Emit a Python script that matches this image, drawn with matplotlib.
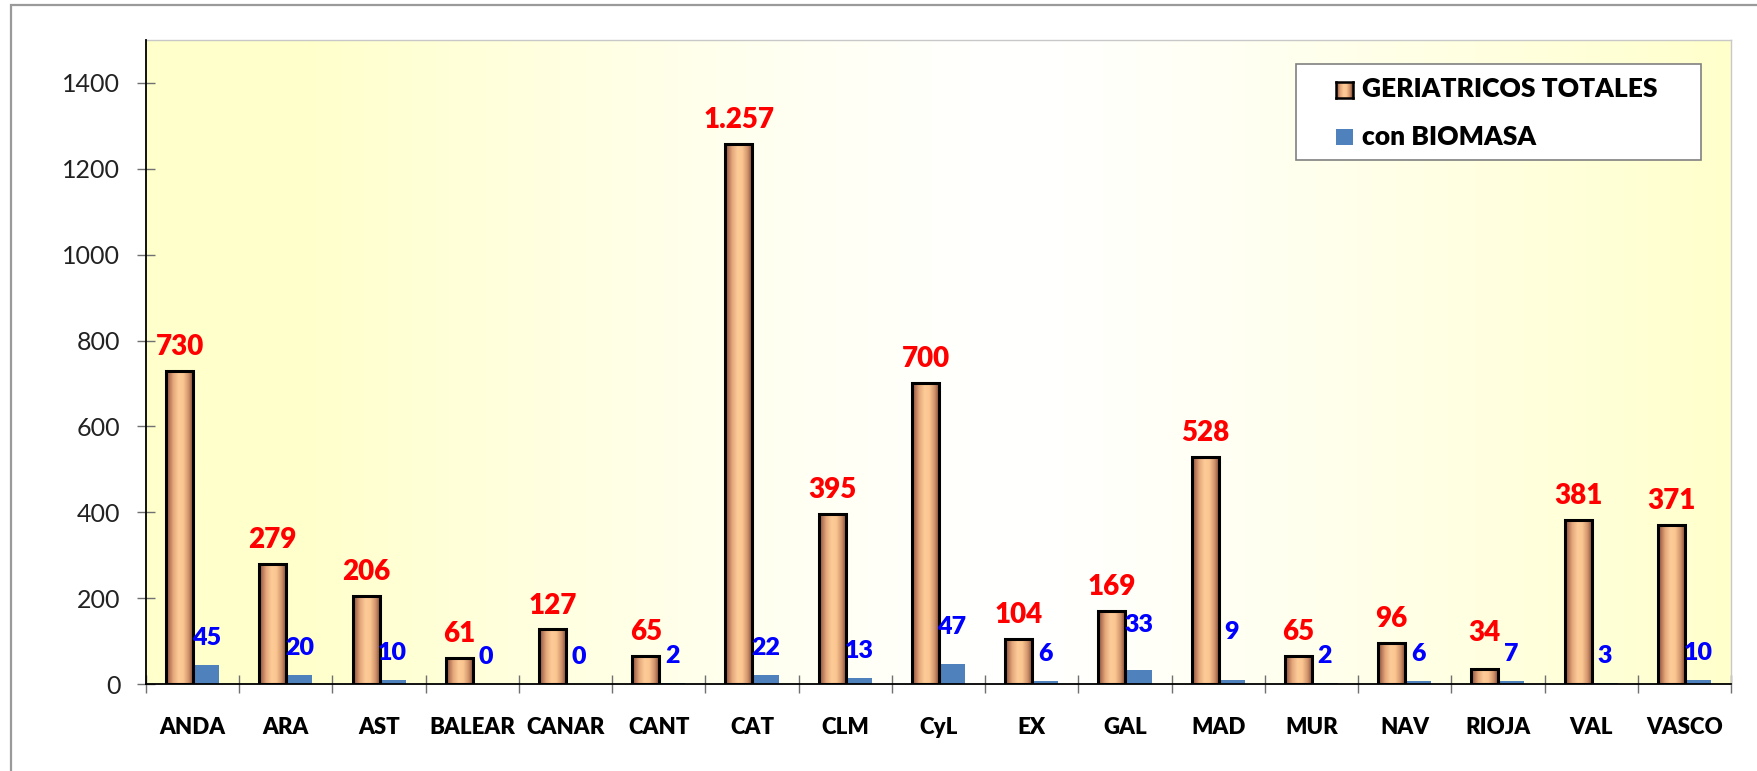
import numpy as np
import matplotlib
matplotlib.use("Agg")
import matplotlib.pyplot as plt
from matplotlib.colors import LinearSegmentedColormap, to_rgb
from matplotlib.patches import Rectangle

# ---------------- data ----------------
categories = ["ANDA", "ARA", "AST", "BALEAR", "CANAR", "CANT", "CAT", "CLM", "CyL",
              "EX", "GAL", "MAD", "MUR", "NAV", "RIOJA", "VAL", "VASCO"]
totales = [730, 279, 206, 61, 127, 65, 1257, 395, 700, 104, 169, 528, 65, 96, 34, 381, 371]
biomasa = [45, 20, 10, 0, 0, 2, 22, 13, 47, 6, 33, 9, 2, 6, 7, 3, 10]
series_names = ["GERIATRICOS TOTALES", "con BIOMASA"]
y_ticks = [0, 200, 400, 600, 800, 1000, 1200, 1400]

# label nudges (points) for a few labels placed higher in the original
red_extra = {"RIOJA": 9}
blue_extra = {"CyL": 7, "GAL": 13, "MAD": 15}

# ---------------- styling ----------------
W, H = 1758, 771
fig = plt.figure(figsize=(W / 100, H / 100), dpi=100)
fig.patch.set_facecolor("white")

bold_font = ["Lato", "DejaVu Sans"]
HEAVY = 800
bar_cmap = LinearSegmentedColormap.from_list(
    "copper_bar",
    [(0.0, "#8A4A37"), (0.25, "#E3A67A"), (0.45, "#FDCB97"),
     (0.62, "#FBC690"), (0.82, "#CF936B"), (1.0, "#7A3F2D")])
blue = "#4F81BD"

# outer frame
fig.add_artist(Rectangle((11 / W, -0.05), 1.2, 1 - 5 / H + 0.05,
                         transform=fig.transFigure, fill=False,
                         edgecolor="#9A9A9A", linewidth=1.6))

ax_left, ax_right = 146 / W, 1731 / W
ax_bottom, ax_top = 1 - 684 / H, 1 - 40 / H
ax = fig.add_axes([ax_left, ax_bottom, ax_right - ax_left, ax_top - ax_bottom])

# plot-area background gradient (yellow - white - yellow)
xs = np.linspace(0, 1, 400)
t = np.clip(np.abs(xs - 0.55) / 0.45, 0, 1) ** 1.2
yel = np.array(to_rgb("#FFFFCC"))
wht = np.array([1.0, 1.0, 1.0])
grad = (wht[None, :] * (1 - t[:, None]) + yel[None, :] * t[:, None])[None, :, :]
ax.imshow(grad, extent=[0, 1, 0, 1], transform=ax.transAxes, aspect="auto",
          zorder=0, interpolation="bilinear")

x = np.arange(len(categories))
ow, bw = 0.29, 0.28
ox = x - 0.5 + 0.215 + ow / 2
bx = x - 0.5 + 0.215 + ow + bw / 2

obars = ax.bar(ox, totales, width=ow, facecolor="none", edgecolor="black",
               linewidth=2.2, zorder=3)
hgrad = np.linspace(0, 1, 64)[None, :]
for rect in obars:
    x0 = rect.get_x()
    im = ax.imshow(hgrad, cmap=bar_cmap, extent=[x0, x0 + rect.get_width(), 0, rect.get_height()],
                   aspect="auto", zorder=2.5, interpolation="bilinear")
    im.set_clip_path(rect)
bbars = ax.bar(bx, biomasa, width=bw, color=blue, zorder=2.5, linewidth=0)

# data labels
for cat, xi, v in zip(categories, ox, totales):
    txt = f"{v:,}".replace(",", ".")
    ax.annotate(txt, (xi, v), xytext=(0, 11.5 + red_extra.get(cat, 0)),
                textcoords="offset points", ha="center", va="baseline",
                color="#FF0000", fontsize=20, fontweight=HEAVY, family=bold_font,
                zorder=5)
for cat, xi, v in zip(categories, bx, biomasa):
    ax.annotate(str(v), (xi, v), xytext=(0, 14.4 + blue_extra.get(cat, 0)),
                textcoords="offset points", ha="center", va="baseline",
                color="#0000FF", fontsize=18, fontweight=HEAVY, family=bold_font,
                zorder=5)

ax.set_xlim(-0.5, len(categories) - 0.5)
ax.set_ylim(0, 1500)
ax.set_yticks(y_ticks)
ax.set_yticklabels([str(v) for v in y_ticks], fontsize=18, family=["Lato", "DejaVu Sans"],
                   color="#222222")
ax.set_xticks(x)
ax.set_xticklabels(categories, fontsize=16, fontweight=HEAVY, family=bold_font)
ax.set_xticks(np.arange(len(categories) + 1) - 0.5, minor=True)
ax.tick_params(axis="x", which="major", length=0, pad=24)
ax.tick_params(axis="x", which="minor", direction="inout", length=13, width=1, color="#707070")
ax.tick_params(axis="y", direction="inout", length=13, width=1, color="#707070", pad=12)

for s in ["left", "bottom"]:
    ax.spines[s].set_color("black")
    ax.spines[s].set_linewidth(1.3)
    ax.spines[s].set_zorder(6)
for s in ["top", "right"]:
    ax.spines[s].set_color("#C8C8C8")
    ax.spines[s].set_linewidth(1.0)

# ---------------- legend (drawn as box) ----------------
fig.add_artist(Rectangle((1296 / W, 1 - 160 / H), 405 / W, 96 / H,
                         transform=fig.transFigure, facecolor="white",
                         edgecolor="#808080", linewidth=1.2, zorder=10))
hax = fig.add_axes([1336 / W, 1 - 98 / H, 17 / W, 16 / H], zorder=11)
hax.imshow(hgrad, cmap=bar_cmap, aspect="auto", extent=[0, 1, 0, 1])
hax.set_xticks([]); hax.set_yticks([])
for s in hax.spines.values():
    s.set_linewidth(1.8); s.set_color("black")
fig.add_artist(Rectangle((1336 / W, 1 - 145 / H), 17 / W, 16 / H,
                         transform=fig.transFigure, facecolor=blue,
                         edgecolor="none", zorder=11))
fig.text(1362 / W, 1 - 97 / H, series_names[0], ha="left", va="baseline",
         fontsize=19, fontweight=HEAVY, family=bold_font, zorder=12)
fig.text(1362 / W, 1 - 145 / H, series_names[1], ha="left", va="baseline",
         fontsize=19, fontweight=HEAVY, family=bold_font, zorder=12)

fig.savefig("out.png", dpi=100)
